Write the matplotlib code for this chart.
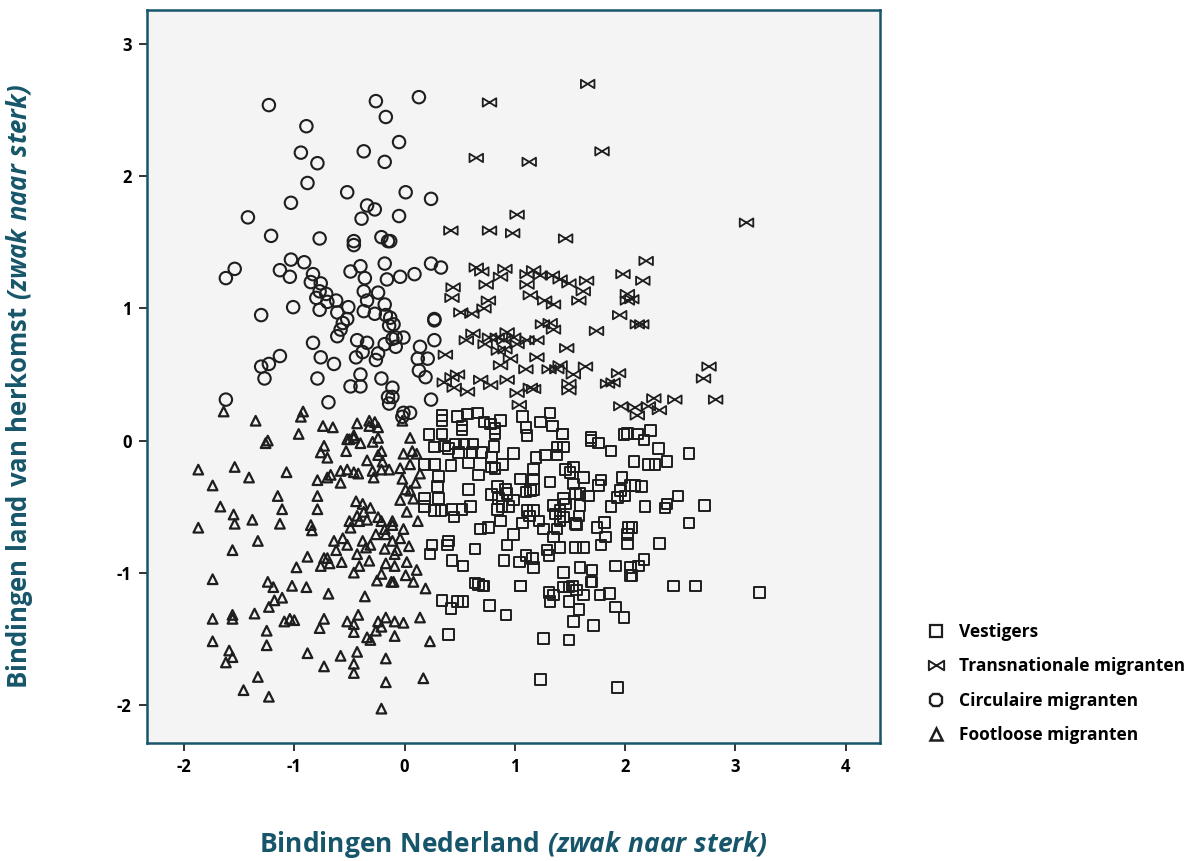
import numpy as np
import matplotlib
matplotlib.use("Agg")
import matplotlib.pyplot as plt
from matplotlib.path import Path
from matplotlib.lines import Line2D

plt.rcParams['font.family'] = ['Open Sans', 'DejaVu Sans']
plt.rcParams['axes.unicode_minus'] = False
plt.rcParams['mathtext.fontset'] = 'custom'
plt.rcParams['mathtext.rm'] = 'Open Sans:bold'
plt.rcParams['mathtext.bf'] = 'Open Sans:bold'
plt.rcParams['mathtext.it'] = 'Open Sans:italic:bold'
plt.rcParams['mathtext.bfit'] = 'Open Sans:italic:bold'

# ---------------- data ----------------
vestigers = [
    (0.22, 0.045), (0.34, 0.05), (0.52, 0.08), (0.82, 0.055), (1.11, 0.04), (1.43, 0.05),
    (1.69, 0.0), (1.76, -0.02), (1.99, 0.045), (2.11, 0.05), (0.27, -0.05), (0.36, -0.04),
    (0.40, -0.06), (0.46, -0.025), (0.54, -0.025), (0.62, -0.025), (0.49, -0.09), (0.61, -0.09),
    (0.70, -0.09), (0.81, -0.045), (0.99, -0.10), (0.79, -0.13), (0.89, -0.18), (1.19, -0.13),
    (1.28, -0.11), (1.38, -0.05), (1.44, -0.05), (1.38, -0.11), (1.87, -0.08), (2.08, -0.16),
    (0.18, -0.18), (0.27, -0.18), (0.58, -0.17), (0.42, -0.19), (0.67, -0.26), (0.82, -0.21),
    (0.79, -0.20), (1.17, -0.22), (1.46, -0.22), (1.53, -0.20), (1.50, -0.24), (1.62, -0.28),
    (1.97, -0.28), (2.05, -0.34), (0.31, -0.27), (0.58, -0.37), (0.30, -0.35), (1.05, -0.29),
    (1.17, -0.29), (1.32, -0.315), (1.53, -0.33), (1.78, -0.30), (1.76, -0.34), (1.96, -0.38),
    (2.00, -0.42), (2.09, -0.34), (0.79, -0.41), (0.84, -0.35), (0.915, -0.37), (0.93, -0.40),
    (0.85, -0.44), (0.99, -0.45), (1.14, -0.38), (1.10, -0.39), (1.17, -0.37), (1.55, -0.40),
    (1.59, -0.40), (1.67, -0.42), (1.44, -0.44), (1.46, -0.48), (1.59, -0.49), (1.35, -0.49),
    (1.93, -0.43), (1.87, -0.50), (0.18, -0.44), (0.31, -0.44), (0.18, -0.50), (0.27, -0.53),
    (0.33, -0.53), (0.43, -0.52), (0.52, -0.52), (0.60, -0.50), (0.45, -0.58), (0.84, -0.52),
    (0.885, -0.50), (0.945, -0.50), (1.11, -0.53), (1.17, -0.53), (1.13, -0.57), (1.22, -0.61),
    (1.37, -0.555), (1.41, -0.53), (1.44, -0.58), (1.58, -0.57), (1.41, -0.61), (1.56, -0.64),
    (0.87, -0.61), (1.07, -0.625), (0.69, -0.67), (0.76, -0.66), (1.26, -0.67), (1.38, -0.67),
    (1.55, -0.63), (1.745, -0.66), (1.81, -0.62), (2.03, -0.66), (2.02, -0.71), (0.99, -0.71),
    (1.82, -0.73), (1.35, -0.73), (0.25, -0.79), (0.40, -0.76), (0.39, -0.79), (0.64, -0.82),
    (0.93, -0.79), (1.29, -0.83), (1.31, -0.87), (1.41, -0.81), (1.55, -0.81), (1.62, -0.81),
    (1.78, -0.79), (2.02, -0.78), (0.23, -0.86), (0.43, -0.91), (0.53, -0.95), (0.90, -0.91),
    (1.04, -0.92), (1.10, -0.87), (1.16, -0.895), (1.17, -0.96), (1.70, -0.98), (1.91, -0.95),
    (2.05, -0.96), (1.59, -0.96), (1.44, -1.00), (0.64, -1.08), (0.72, -1.10), (1.05, -1.10),
    (1.44, -1.11), (1.52, -1.10), (1.69, -1.07), (2.05, -1.02),
    (0.34, 0.19), (0.34, 0.15), (0.48, 0.18), (0.57, 0.20), (0.66, 0.21), (0.72, 0.14),
    (0.78, 0.125), (0.82, 0.09), (0.87, 0.15), (1.07, 0.18), (1.10, 0.10), (1.32, 0.21),
    (1.34, 0.11), (1.43, 0.05), (1.23, 0.14), (0.52, 0.11), (1.69, 0.025), (2.02, 0.055),
    (2.17, 0.005), (2.23, 0.075), (2.30, -0.06), (2.58, -0.10), (2.21, -0.18), (2.27, -0.18),
    (2.38, -0.16), (2.15, -0.35), (2.48, -0.42), (2.38, -0.48), (2.36, -0.51), (2.18, -0.50),
    (2.72, -0.49), (2.58, -0.625), (2.31, -0.78), (2.06, -0.66), (2.17, -0.90), (2.12, -0.95),
    (2.06, -1.02), (2.44, -1.10), (2.64, -1.10), (3.22, -1.15),
    (0.67, -1.09), (0.71, -1.10), (1.05, -1.10), (0.34, -1.21), (0.42, -1.27), (0.48, -1.22),
    (0.53, -1.22), (0.77, -1.25), (0.92, -1.32), (1.31, -1.15), (1.35, -1.17), (1.32, -1.22),
    (1.49, -1.11), (1.56, -1.13), (1.62, -1.17), (1.49, -1.22), (1.58, -1.28), (1.53, -1.37),
    (1.715, -1.40), (1.70, -1.07), (1.77, -1.17), (1.86, -1.16), (1.91, -1.26), (1.99, -1.34),
    (0.40, -1.47), (1.26, -1.50), (1.49, -1.51), (1.23, -1.81), (1.93, -1.87),
]

transnationale = [
    (1.66, 2.70), (0.77, 2.56), (0.65, 2.14), (1.13, 2.11), (1.79, 2.19), (1.02, 1.71),
    (0.42, 1.59), (0.77, 1.59), (0.98, 1.57), (1.46, 1.53), (3.10, 1.65), (0.65, 1.31),
    (0.70, 1.28), (0.91, 1.30), (0.87, 1.24), (0.44, 1.16), (0.43, 1.08), (0.74, 1.18),
    (0.76, 1.06), (0.51, 0.97), (0.61, 0.96), (0.72, 1.00), (1.11, 1.26), (1.17, 1.29),
    (1.23, 1.25), (1.34, 1.25), (1.41, 1.22), (1.49, 1.19), (1.65, 1.21), (1.62, 1.13),
    (1.98, 1.26), (1.11, 1.18), (1.14, 1.10), (1.27, 1.06), (1.35, 1.03), (1.58, 1.06),
    (2.02, 1.11), (2.02, 1.06), (1.95, 0.95), (2.11, 0.88), (1.25, 0.88), (1.32, 0.89),
    (1.35, 0.84), (1.74, 0.83), (0.56, 0.76), (0.62, 0.81), (0.77, 0.78), (0.73, 0.73),
    (0.84, 0.78), (0.93, 0.82), (0.90, 0.76), (0.99, 0.78), (1.02, 0.73), (1.11, 0.76),
    (1.20, 0.76), (0.85, 0.68), (0.91, 0.69), (1.47, 0.70), (0.37, 0.65), (0.96, 0.62),
    (0.87, 0.57), (1.20, 0.63), (1.10, 0.54), (1.31, 0.54), (1.41, 0.57), (1.38, 0.54),
    (1.64, 0.56), (1.53, 0.50), (1.94, 0.51), (0.36, 0.44), (0.43, 0.48), (0.48, 0.50),
    (0.45, 0.40), (0.57, 0.37), (0.69, 0.46), (0.78, 0.42), (0.93, 0.46), (1.02, 0.36),
    (1.14, 0.40), (1.17, 0.39), (1.49, 0.43), (1.49, 0.38), (1.84, 0.43), (1.89, 0.44),
    (1.04, 0.27), (1.96, 0.26), (2.09, 0.25), (2.11, 0.19), (2.19, 1.36), (2.16, 1.21),
    (2.06, 1.07), (2.15, 0.88), (2.76, 0.56), (2.71, 0.47), (2.26, 0.32), (2.45, 0.31),
    (2.82, 0.31), (2.21, 0.26), (2.31, 0.23),
]

circulaire = [
    (-1.23, 2.54), (-0.26, 2.57), (-0.17, 2.45), (0.13, 2.60), (-0.89, 2.38), (-0.94, 2.18),
    (-0.79, 2.10), (-0.37, 2.19), (-0.05, 2.26), (-0.18, 2.11), (-0.88, 1.95), (-0.52, 1.88),
    (0.01, 1.88), (0.24, 1.83), (-1.03, 1.80), (-0.34, 1.78), (-0.27, 1.75), (-1.42, 1.69),
    (-0.39, 1.68), (-0.05, 1.70), (-1.21, 1.55), (-0.77, 1.53), (-0.46, 1.51), (-0.46, 1.48),
    (-0.21, 1.54), (-0.15, 1.51), (-0.13, 1.51),
    (-1.54, 1.30), (-1.62, 1.23), (-1.30, 0.95), (-1.13, 1.29), (-1.03, 1.37), (-0.91, 1.35),
    (-1.04, 1.24), (-0.83, 1.26), (-0.85, 1.20), (-0.76, 1.19), (-0.77, 1.13), (-0.80, 1.08),
    (-0.71, 1.11), (-0.70, 1.05), (-0.62, 1.06), (-0.77, 0.99), (-1.01, 1.01), (-0.61, 0.97),
    (-0.51, 1.01), (-0.52, 0.92), (-0.56, 0.89), (-0.58, 0.84), (-0.61, 0.79), (-0.49, 1.28),
    (-0.40, 1.32), (-0.36, 1.23), (-0.18, 1.34), (-0.16, 1.22), (-0.37, 1.13), (-0.24, 1.12),
    (-0.34, 1.06), (-0.18, 1.03), (-0.37, 0.98), (-0.27, 0.96), (-0.17, 0.95), (-0.14, 0.87),
    (-0.11, 0.77), (-0.18, 0.73), (-0.43, 0.76), (-0.34, 0.74), (-0.44, 0.63), (-0.38, 0.67),
    (-0.24, 0.66), (-0.26, 0.61), (-0.83, 0.74), (-0.76, 0.63), (-0.64, 0.58), (-1.13, 0.64),
    (-1.23, 0.58), (-1.30, 0.56), (-1.27, 0.47), (-0.79, 0.47), (-0.40, 0.50), (-0.21, 0.47),
    (-0.49, 0.41), (-0.40, 0.41), (-0.11, 0.40), (-0.15, 0.33), (-0.14, 0.28), (-0.69, 0.29),
    (-1.62, 0.31),
    (0.24, 1.34), (0.33, 1.31), (-0.04, 1.24), (0.09, 1.26), (0.27, 0.92), (0.27, 0.91),
    (-0.13, 0.93), (-0.10, 0.88), (-0.08, 0.78), (-0.01, 0.78), (-0.08, 0.71), (0.14, 0.71),
    (0.27, 0.76), (0.12, 0.62), (0.21, 0.62), (0.13, 0.53), (0.19, 0.48), (-0.11, 0.33),
    (0.24, 0.31), (-0.01, 0.21), (0.05, 0.21), (-0.02, 0.18),
]

footloose = [
    (-0.96, 0.05), (-1.26, -0.02), (-1.87, -0.22), (-1.54, -0.20), (-1.41, -0.28), (-1.07, -0.24),
    (-1.74, -0.34), (-1.15, -0.42), (-0.79, -0.42), (-0.79, -0.30), (-0.70, -0.28), (-0.67, -0.26),
    (-0.58, -0.32), (-0.58, -0.23), (-0.52, -0.22), (-0.46, -0.24), (-0.42, -0.25), (-0.73, -0.04),
    (-0.76, -0.09), (-0.70, -0.13), (-0.52, 0.01), (-0.46, 0.02), (-0.40, -0.02), (-0.53, -0.08),
    (-0.29, -0.01), (-0.24, 0.02), (-0.24, -0.11), (-0.34, -0.15), (-0.20, -0.16), (-0.21, -0.08),
    (-0.29, -0.23), (-0.21, -0.22), (-0.14, -0.22), (-0.28, -0.28), (-1.67, -0.50), (-1.55, -0.56),
    (-1.54, -0.63), (-1.38, -0.60), (-1.87, -0.66), (-1.11, -0.52), (-1.13, -0.63), (-0.79, -0.52),
    (-0.85, -0.64), (-0.84, -0.68), (-1.33, -0.76), (-1.56, -0.83), (-1.74, -1.05), (-0.98, -0.96),
    (-0.88, -0.88), (-0.73, -0.89), (-0.76, -0.95), (-0.68, -0.93), (-0.70, -0.89), (-0.64, -0.76),
    (-0.56, -0.74), (-0.52, -0.79), (-0.62, -0.83), (-0.57, -0.92), (-0.44, -0.46), (-0.38, -0.48),
    (-0.31, -0.51), (-0.37, -0.54), (-0.43, -0.57), (-0.50, -0.61), (-0.41, -0.61), (-0.34, -0.60),
    (-0.49, -0.66), (-0.24, -0.58), (-0.21, -0.61), (-0.11, -0.61), (-0.11, -0.64), (-0.26, -0.71),
    (-0.17, -0.71), (-0.18, -0.67), (-0.11, -0.76), (-0.38, -0.76), (-0.31, -0.79), (-0.35, -0.81),
    (-0.43, -0.86), (-0.32, -0.91), (-0.18, -0.82), (-0.09, -0.86), (-0.17, -0.93), (-0.09, -0.95),
    (-0.41, -0.95), (-0.46, -1.00), (-0.21, -1.01), (-0.25, -1.06), (-0.12, -1.07), (-1.24, -1.07),
    (-1.19, -1.11), (-1.02, -1.10), (-0.89, -1.11),
    (-0.69, -1.16), (-0.36, -1.18), (-1.18, -1.21), (-1.11, -1.19), (-1.23, -1.26), (-1.74, -1.35),
    (-1.56, -1.32), (-1.56, -1.35), (-1.36, -1.31), (-1.09, -1.37), (-1.04, -1.35), (-1.00, -1.36),
    (-0.73, -1.35), (-0.77, -1.42), (-0.52, -1.37), (-0.46, -1.39), (-0.42, -1.32), (-0.24, -1.37),
    (-0.17, -1.34), (-0.09, -1.37), (-0.21, -1.41), (-0.26, -1.44), (-0.46, -1.45), (-1.25, -1.44),
    (-1.74, -1.52), (-1.25, -1.55), (-1.59, -1.59), (-1.56, -1.64), (-1.62, -1.68), (-0.88, -1.61),
    (-0.58, -1.63), (-0.43, -1.60), (-0.73, -1.71), (-0.46, -1.69), (-0.46, -1.76), (-0.34, -1.49),
    (-0.31, -1.51), (-0.09, -1.48), (-0.17, -1.65), (-0.17, -1.83), (-1.33, -1.79), (-1.46, -1.89),
    (-1.23, -1.94), (-0.21, -2.03),
    (-0.10, -1.07), (0.08, -1.07), (0.19, -1.12), (-0.01, -1.38), (0.14, -1.34), (0.23, -1.52),
    (0.17, -1.80),
    (0.05, 0.02), (-0.01, -0.10), (0.07, -0.08), (0.11, -0.10), (0.05, -0.18), (-0.04, -0.21),
    (0.14, -0.25), (-0.02, -0.29), (0.10, -0.32), (0.01, -0.37), (0.05, -0.38), (-0.04, -0.45),
    (0.08, -0.44), (0.02, -0.54), (0.12, -0.61), (-0.01, -0.67), (-0.04, -0.74), (0.04, -0.80),
    (-0.07, -0.83), (0.02, -0.92), (0.11, -0.98), (0.01, -1.02),
    (-1.64, 0.22), (-1.35, 0.15), (-0.92, 0.22), (-0.94, 0.18), (-0.74, 0.11), (-0.65, 0.10),
    (-0.43, 0.13), (-0.32, 0.15), (-0.27, 0.14), (-0.24, 0.10), (-0.32, 0.11), (-0.46, 0.04),
    (-0.50, 0.01), (-1.24, 0.0), (-0.02, 0.15),
]

x_ticks = [-2, -1, 0, 1, 2, 3, 4]
y_ticks = [-2, -1, 0, 1, 2, 3]
labels = ['Vestigers', 'Transnationale migranten', 'Circulaire migranten', 'Footloose migranten']

# ---------------- styling ----------------
TEAL = '#17566a'
EDGE = '#1e1e1e'

bow_verts = [(-1, -0.62), (0, 0), (-1, 0.62), (-1, -0.62),
             (1, -0.62), (0, 0), (1, 0.62), (1, -0.62)]
bow_codes = [Path.MOVETO, Path.LINETO, Path.LINETO, Path.CLOSEPOLY,
             Path.MOVETO, Path.LINETO, Path.LINETO, Path.CLOSEPOLY]
bowtie = Path(bow_verts, bow_codes)

fig = plt.figure(figsize=(12, 8.61), dpi=100)
ax = fig.add_axes([147/1200, 1-743/861, 733/1200, 733/861])
ax.set_facecolor('#f4f4f4')

def xy(pts):
    a = np.array(pts)
    return a[:, 0], a[:, 1]

vx, vy = xy(vestigers)
tx, ty = xy(transnationale)
cx, cy = xy(circulaire)
fx, fy = xy(footloose)

ax.scatter(fx, fy, marker='^', s=48, facecolors='none', edgecolors=EDGE, linewidths=1.6, zorder=3)
ax.scatter(cx, cy, marker='o', s=80, facecolors='none', edgecolors=EDGE, linewidths=1.5, zorder=3)
ax.scatter(tx, ty, marker=bowtie, s=95, facecolors='none', edgecolors=EDGE, linewidths=1.3, zorder=3)
ax.scatter(vx, vy, marker='s', s=58, facecolors='none', edgecolors=EDGE, linewidths=1.4, zorder=3)

ax.set_xlim(-2.335, 4.31)
ax.set_ylim(-2.29, 3.26)
ax.set_xticks(x_ticks)
ax.set_yticks(y_ticks)
ax.set_xticklabels([str(t) for t in x_ticks], fontsize=12, fontweight='bold')
ax.set_yticklabels([str(t) for t in y_ticks], fontsize=12, fontweight='bold')
ax.tick_params(direction='out', length=6, width=1.4, color='#333333', pad=5)
for sp in ax.spines.values():
    sp.set_color(TEAL)
    sp.set_linewidth(1.8)

fig.text(513/1200, 1-845/861,
         r'$\mathbf{Bindingen\ Nederland}\ \mathbfit{(zwak\ naar\ sterk)}$',
         ha='center', va='center', fontsize=19, color=TEAL)
fig.text(20/1200, 1-386/861,
         r'$\mathbf{Bindingen\ land\ van\ herkomst}\ \mathbfit{(zwak\ naar\ sterk)}$',
         ha='center', va='center', rotation=90, fontsize=18.5, color=TEAL)

handles = [
    Line2D([], [], ls='none', marker='s', markersize=9, mfc='none', mec=EDGE, mew=1.6),
    Line2D([], [], ls='none', marker=bowtie, markersize=11, mfc='none', mec=EDGE, mew=1.4),
    Line2D([], [], ls='none', marker='8', markersize=10, mfc='none', mec=EDGE, mew=1.7),
    Line2D([], [], ls='none', marker='^', markersize=8, mfc='none', mec=EDGE, mew=1.8),
]
leg = fig.legend(handles, labels, loc='upper left', bbox_to_anchor=(910/1200, 1-607/861),
                 frameon=False, handlelength=1.2, handletextpad=0.7, labelspacing=0.95,
                 prop={'size': 12.5, 'weight': 'bold'})

fig.savefig('out.png', dpi=100)
